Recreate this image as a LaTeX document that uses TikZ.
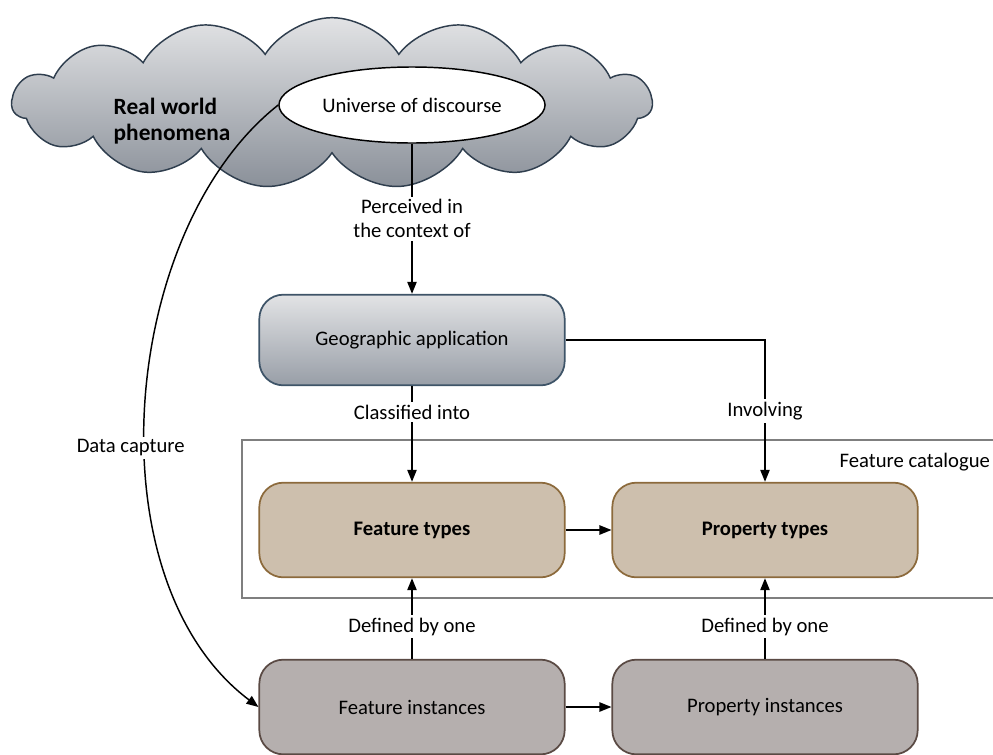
\documentclass[tikz,border=0pt]{standalone}
\usepackage{fontspec}
\setmainfont{Carlito}
\usepackage{tikz}
\usetikzlibrary{positioning,arrows.meta,shapes,calc}
\definecolor{CloudEdge}{RGB}{47,62,78}
\definecolor{CloudTop}{RGB}{226,227,229}
\definecolor{CloudBot}{RGB}{138,144,153}
\definecolor{AppEdge}{RGB}{62,84,104}
\definecolor{AppBot}{RGB}{152,158,167}
\definecolor{TypeFill}{RGB}{205,191,173}
\definecolor{TypeEdge}{RGB}{140,106,60}
\definecolor{InstFill}{RGB}{181,175,174}
\definecolor{InstEdge}{RGB}{90,74,68}
\definecolor{FrameGray}{RGB}{127,127,127}

\begin{document}
\begin{tikzpicture}[
    x=0.75pt, y=-0.75pt,
    font=\fontsize{15.5}{18}\selectfont,
    >={Triangle[length=9pt,width=7pt]},
    conn/.style={->, line width=1.1pt},
    lbl/.style={fill=white, inner sep=2pt, align=center},
    cloudbox/.style={cloud, cloud puffs=15, cloud puff arc=115, aspect=3.6,
        minimum width=480pt, minimum height=128pt, draw=CloudEdge, line width=1.1pt,
        top color=CloudTop, bottom color=CloudBot},
    appbox/.style={rectangle, rounded corners=18pt, draw=AppEdge, line width=1.3pt,
        top color=CloudTop, bottom color=AppBot,
        minimum width=229pt, minimum height=68pt},
    typebox/.style={rectangle, rounded corners=18pt, draw=TypeEdge, line width=1.3pt,
        fill=TypeFill, minimum width=229pt, minimum height=71pt, font=\fontsize{15.5}{18}\selectfont\bfseries},
    instbox/.style={rectangle, rounded corners=18pt, draw=InstEdge, line width=1.3pt,
        fill=InstFill, minimum width=229pt, minimum height=71pt}
]
\useasboundingbox (0,0) rectangle (993,754);
\clip (0,0) rectangle (993,754);

% real world
\node[cloudbox] (world) at (332,103) {};
\node[align=left, font=\fontsize{17.5}{20}\selectfont\bfseries] (phen) at (172,121) {Real world\\phenomena};
\node[ellipse, draw, line width=1.1pt, fill=white, minimum width=189pt, minimum height=57pt] (uod) at (412,105) {Universe of discourse};

% application
\node[appbox] (geo) at (412,340) {Geographic application};

% feature catalogue
\node[draw=FrameGray, line width=1.5pt, minimum width=585pt, minimum height=118pt] (cat) at (632,519) {};
\node[anchor=west] (catlbl) at (835,462) {Feature catalogue};
\node[typebox] (ftype) at (412,530) {Feature types};
\node[typebox] (ptype) at (765,530) {Property types};

% instances
\node[instbox] (finst) at (412,707) {Feature instances};
\node[instbox] (pinst) at (765,707) {Property instances};

\draw[conn] (uod) -- node[lbl] {Perceived in\\the context of} (geo);
\draw[conn] (geo) -- node[lbl, pos=0.27] {Classified into} (ftype);
\draw[conn] (geo.east) -| node[lbl, pos=0.75] {Involving} (ptype.north);
\draw[conn] (ftype) -- (ptype);
\draw[conn] (finst) -- node[lbl, pos=0.4] {Defined by one} (ftype);
\draw[conn] (pinst) -- node[lbl, pos=0.4] {Defined by one} (ptype);
\draw[conn] (finst) -- (pinst);
\draw[->, line width=1.1pt] (uod.west) .. controls (120,230) and (90,580) .. node[lbl, pos=0.56, xshift=-11pt] {Data capture} (finst.west);
\end{tikzpicture}
\end{document}
